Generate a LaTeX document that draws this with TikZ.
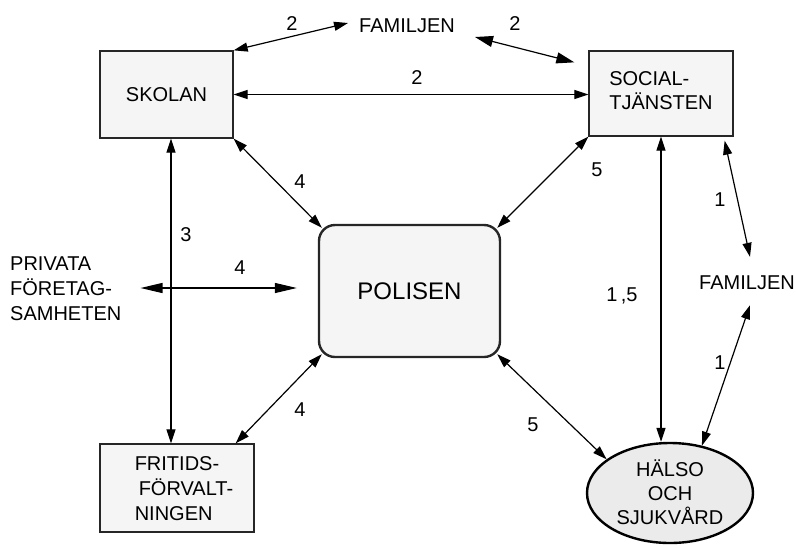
\documentclass[tikz,border=0pt]{standalone}
\usepackage{fontspec}
\setmainfont{Liberation Sans}
\usetikzlibrary{arrows.meta,shapes.geometric}
\tikzset{
  box/.style={draw=black!85, line width=1.3pt, fill=black!4, inner sep=0pt},
  txt/.style={inner sep=0pt, font=\fontsize{20}{25}\selectfont},
  num/.style={inner sep=0pt, font=\fontsize{20}{24}\selectfont},
  link/.style={line width=1.2pt, {Triangle[length=14pt,width=9pt]}-{Triangle[length=14pt,width=9pt]}},
}
\newcommand{\lines}[2]{\begin{tabular}{@{}#1@{}}#2\end{tabular}}
\begin{document}
\begin{tikzpicture}[x=1pt,y=-1pt]
\useasboundingbox (0,0) rectangle (796,547);
% nodes
\node[box, minimum width=133pt, minimum height=87pt, txt] (skolan) at (166.5,94.5) {SKOLAN};
\node[box, minimum width=144pt, minimum height=85pt] (social) at (661,93.5) {};
\node[txt] (socialtext) at (661,93) {\renewcommand{\arraystretch}{0.9}\lines{l}{SOCIAL-\\TJÄNSTEN}};
\node[box, rounded corners=16pt, line width=2.4pt, minimum width=181pt, minimum height=132pt,
      font=\fontsize{24}{28}\selectfont] (polisen) at (409.5,291) {POLISEN};
\node[box, minimum width=154pt, minimum height=88pt] (fritids) at (177,488) {};
\node[txt] (fritidstext) at (184,490) {\lines{l}{FRITIDS-\\\hspace*{4pt}FÖRVALT-\\NINGEN}};
\node[ellipse, draw, line width=2.4pt, fill=black!8, minimum width=166pt, minimum height=100pt,
      inner sep=0pt] (halso) at (670,493) {};
\node[txt] (halsotext) at (670,496) {\renewcommand{\arraystretch}{0.95}\lines{c}{HÄLSO\\OCH\\SJUKVÅRD}};
\node[txt] (famtop) at (407,26) {FAMILJEN};
\node[txt] (famright) at (747,283) {FAMILJEN};
\node[txt, anchor=west] (privata) at (10,290) {\lines{l}{PRIVATA\\FÖRETAG-\\SAMHETEN}};
% connectors
\draw[link] (skolan.north east) -- ([xshift=-11pt,yshift=3pt]famtop.west);
\draw[line width=1.2pt, {Triangle[length=18pt,width=11pt]}-{Triangle[length=18pt,width=11pt]}]
  ([xshift=20pt,yshift=-11pt]famtop.east) -- ([xshift=-14pt,yshift=-12pt]social.north west);
\draw[link] (skolan.east) -- (skolan.east -| social.west);
\draw[link] (skolan.south east) -- ([xshift=4pt,yshift=-4pt]polisen.north west);
\draw[link] ([xshift=-4pt,yshift=-4pt]polisen.north east) -- (social.south west);
\draw[link] ([xshift=4pt,yshift=4pt]polisen.south west) -- ([xshift=-19pt]fritids.north east);
\draw[link] ([xshift=-4pt,yshift=4pt]polisen.south east) -- (halso.152);
\draw[link] ([xshift=4.5pt]skolan.south) -- ([xshift=4.5pt]skolan.south |- fritids.north);
\draw[line width=1.2pt, {Triangle[length=22pt,width=10pt]}-{Triangle[length=22pt,width=10pt]}]
  ([xshift=19pt,yshift=2pt]privata.east) -- ([xshift=-21pt,yshift=3pt]polisen.west);
\draw[link] (social.south) -- (social.south |- halso.north);
\draw[link] ([xshift=-9pt,yshift=-4pt]social.south east) -- ([xshift=3pt,yshift=19pt]famright.north);
\draw[link] ([xshift=3pt,yshift=-15pt]famright.south) -- (halso.56);
% labels
\node[num] (l1) at (292,24) {2};
\node[num] (l2) at (515,24) {2};
\node[num] (l3) at (417,78) {2};
\node[num] (l4) at (186,235) {3};
\node[num] (l5) at (240,268) {4};
\node[num] (l6) at (300,182) {4};
\node[num] (l7) at (597,170) {5};
\node[num] (l8) at (300,410) {4};
\node[num] (l9) at (533,425) {5};
\node[num] (l10) at (622,296) {1\,,5};
\node[num] (l11) at (720,200) {1};
\node[num] (l12) at (720,363) {1};
\end{tikzpicture}
\end{document}
